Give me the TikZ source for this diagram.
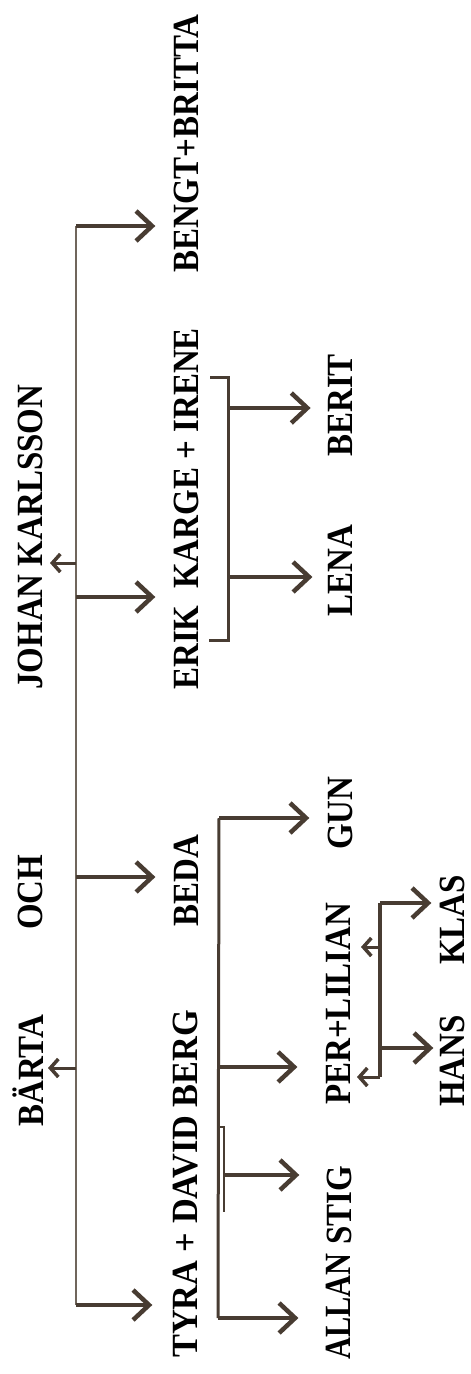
\documentclass[tikz,border=0pt]{standalone}
\usepackage{graphicx}
\usepackage{fontspec}
\setmainfont{Liberation Serif}
\usetikzlibrary{arrows.meta}
\definecolor{pencil}{RGB}{112,102,92}
\definecolor{ink}{RGB}{72,60,50}
\newcommand{\vs}[2][1]{\scalebox{#1}[1.12]{#2}}
\tikzset{
  lbl/.style={rotate=90, anchor=base west, inner sep=0pt, text=black,
    font=\fontsize{33}{33}\selectfont\bfseries},
  trunk/.style={draw=pencil, line width=2.5pt},
  famline/.style={draw=ink, line width=3pt},
  arr/.style={draw=ink, line width=3.5pt,
    -{Straight Barb[length=16pt,width=30pt,line width=4.5pt]}},
  sarr/.style={draw=ink, line width=3pt,
    -{Straight Barb[length=8pt,width=18pt,line width=3.5pt]}},
}
\begin{document}
\begin{tikzpicture}[x=1pt,y=-1pt]
\useasboundingbox[fill=white] (0,0) rectangle (471,1374);
% ---- texts
\node[lbl] (barta) at (43,1127) {\vs{BÄRTA}};
\node[lbl] (och)   at (42,930)  {\vs{OCH}};
\node[lbl] (johan) at (42,690)  {\vs{JOHAN KARLSSON}};
\node[lbl] (tyra)  at (197,1358) {\vs[1.04]{TYRA + DAVID BERG}};
\node[lbl] (beda)  at (198,927) {\vs{BEDA}};
\node[lbl] (erik)  at (198,690) {\vs{ERIK\ \ KARGE + IRENE}};
\node[lbl] (bengt) at (198,273) {\vs{BENGT+BRITTA}};
\node[lbl] (allan) at (350,1360) {\vs[0.92]{ALLAN}};
\node[lbl] (stig)  at (351,1245) {\vs{STIG}};
\node[lbl] (per)   at (350,1105) {\vs{PER+LILIAN}};
\node[lbl] (gun)   at (352,850) {\vs{GUN}};
\node[lbl] (lena)  at (352,617) {\vs{LENA}};
\node[lbl] (berit) at (352,457) {\vs{BERIT}};
\node[lbl] (hans)  at (464,1107) {\vs{HANS}};
\node[lbl] (klas)  at (464,965) {\vs{KLAS}};
% ---- main line
\coordinate (jBengt) at (76,226);
\coordinate (jJohan) at (76,563);
\coordinate (jErik)  at (76,597);
\coordinate (jBeda)  at (76,877);
\coordinate (jBarta) at (76,1068);
\coordinate (jTyra)  at (76,1305);
\coordinate (tipJohan) at (50,563);
\coordinate (tipBarta) at (48,1068);
\draw[trunk] (jBengt) -- (jTyra);
\draw[arr, shorten >=18pt] (jBengt) -- (jBengt -| bengt.north);
\draw[arr, shorten >=18pt] (jErik) -- (jErik -| erik.north);
\draw[arr, shorten >=18pt] (jBeda) -- (jBeda -| beda.north);
\draw[arr, shorten >=20pt] (jTyra) -- (jTyra -| tyra.north);
\draw[sarr] (jJohan) -- (tipJohan);
\draw[sarr] (jBarta) -- (tipBarta);
% ---- Erik + Irene
\coordinate (eTop) at (228,377);
\coordinate (eBot) at (228,640);
\coordinate (eTickT) at (210,377);
\coordinate (eTickB) at (209,640);
\coordinate (jBerit) at (229,408);
\coordinate (jLena) at (229,577);
\draw[famline] (eTickT) -- (eTop) -- (eBot) -- (eTickB);
\draw[arr, shorten >=17pt] (jBerit) -- (jBerit -| berit.north);
\draw[arr, shorten >=15pt] (jLena) -- (jLena -| lena.north);
% ---- Tyra + David
\coordinate (yTop) at (219,818);
\coordinate (yBot) at (218,1318);
\coordinate (jPer) at (218,1067);
\coordinate (jStig) at (223,1175);
\coordinate (dTop) at (224,1127);
\coordinate (dBot) at (224,1212);
\draw[famline] (yTop) -- (yBot);
\draw[draw=ink, line width=1.5pt] (yTop |- dTop) -- (dTop) -- (dBot);
\draw[arr, shorten >=18pt] (yTop) -- (yTop -| gun.north);
\draw[arr, shorten >=28pt] (jPer) -- (jPer -| per.north);
\draw[arr, shorten >=27pt] (jStig) -- (jStig -| stig.north);
\draw[arr, shorten >=27pt] (yBot) -- (yBot -| allan.north);
% ---- Per + Lilian
\coordinate (pTop) at (380,903);
\coordinate (pBot) at (380,1077);
\coordinate (jHans) at (380,1048);
\coordinate (jPerMid) at (380,947);
\coordinate (tipPerMid) at (361,947);
\coordinate (tipPerBot) at (357,1077);
\draw[famline, line width=3.5pt] (pTop) -- (pBot);
\draw[arr, shorten >=8pt] (pTop) -- (pTop -| klas.north);
\draw[arr, shorten >=6pt] (jHans) -- (jHans -| hans.north);
\draw[sarr] (jPerMid) -- (tipPerMid);
\draw[sarr] (pBot) -- (tipPerBot);
\end{tikzpicture}
\end{document}
